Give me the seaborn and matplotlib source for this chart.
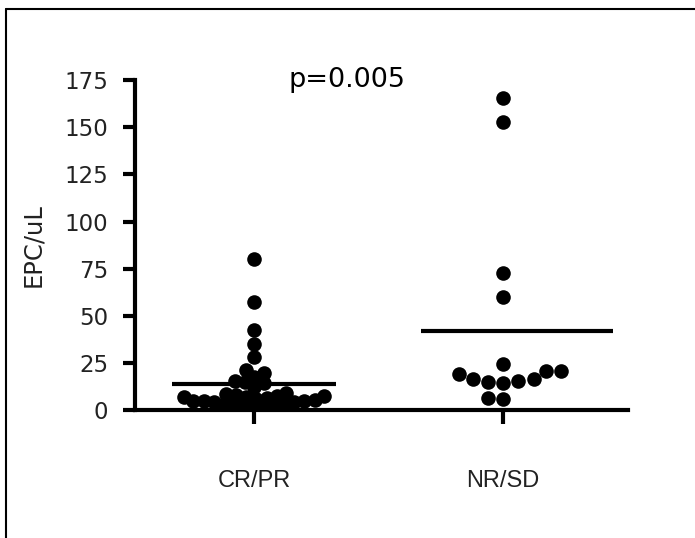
import numpy as np
import pandas as pd
import matplotlib.pyplot as plt
import seaborn as sns
from matplotlib.lines import Line2D

# values
groups = ['CR/PR', 'NR/SD']
cr_pr = [79.9, 57.1, 42.4, 34.8, 28.3, 21.2, 19.5, 17.7, 15.5, 15.0, 14.1, 12.4,
         9.0, 8.5, 8.0, 7.5, 7.2, 7.0, 6.8, 6.5, 6.0, 5.5, 5.0, 5.0, 4.5, 4.2,
         4.0, 3.5, 3.0, 3.0, 2.5, 2.0, 1.5, 1.0]
nr_sd = [165.3, 152.9, 72.5, 59.8, 24.2, 20.7, 20.7, 19.1, 16.3, 16.3, 15.4,
         14.9, 14.5, 6.2, 5.8]
y_ticks = [0, 25, 50, 75, 100, 125, 150, 175]
p_text = 'p=0.005'

df = pd.DataFrame({
    'grupo': [groups[0]] * len(cr_pr) + [groups[1]] * len(nr_sd),
    'EPC/uL': cr_pr + nr_sd,
})

sns.set_style('white')
plt.rcParams['font.family'] = ['Liberation Sans', 'DejaVu Sans']

fig = plt.figure(figsize=(6.95, 5.38), dpi=100)
ax = fig.add_axes([0.194, 0.238, 0.71, 0.613])

# each swarm laid out with its own dot size, then all dots drawn at the same
# size so the dense group overlaps like the original
layout_size = {'CR/PR': 7.0, 'NR/SD': 10.5}
for g in groups:
    sns.swarmplot(data=df[df['grupo'] == g], x='grupo', y='EPC/uL', order=groups,
                  color='black', size=layout_size[g], ax=ax, warn_thresh=1)
ax.set_xlim(-0.478, 1.502)
ax.set_ylim(0, 175)
fig.canvas.draw()
for coll in ax.collections:
    if 'draw' in coll.__dict__:
        del coll.draw
    coll.set_sizes([10.5 ** 2])

# mean lines
means = df.groupby('grupo')['EPC/uL'].mean()
ax.hlines(means[groups[0]], -0.33, 0.33, color='black', lw=3)
ax.hlines(means[groups[1]], -0.33 + 1, 0.44 + 1, color='black', lw=3)

ax.set_yticks(y_ticks)
ax.set_xlabel('')
ax.set_ylabel('EPC/uL', fontsize=17.5, labelpad=14, family='DejaVu Sans',
              color='#222222')

for s in ['top', 'right']:
    ax.spines[s].set_visible(False)
for s in ['left', 'bottom']:
    ax.spines[s].set_linewidth(3)
    ax.spines[s].set_color('black')

ax.tick_params(axis='y', direction='out', length=9, width=3, pad=10,
               labelsize=16.5, left=True, color='black')
ax.tick_params(axis='x', direction='out', length=10, width=3, pad=33,
               labelsize=17, bottom=True, color='black')
for lab in ax.get_yticklabels():
    lab.set_family('DejaVu Sans')
    lab.set_color('#222222')
for lab in ax.get_xticklabels():
    lab.set_color('#222222')

ax.text(0.375, 175, p_text, fontsize=19.5, ha='center', va='center',
        color='black', family='DejaVu Sans')

# frame around the picture (only top and left visible)
fig.add_artist(Line2D([0.009, 1.0], [0.983, 0.983], color='black', lw=1.5,
                      transform=fig.transFigure))
fig.add_artist(Line2D([0.009, 0.009], [0.0, 0.983], color='black', lw=1.5,
                      transform=fig.transFigure))

fig.savefig('out.png', dpi=100)
